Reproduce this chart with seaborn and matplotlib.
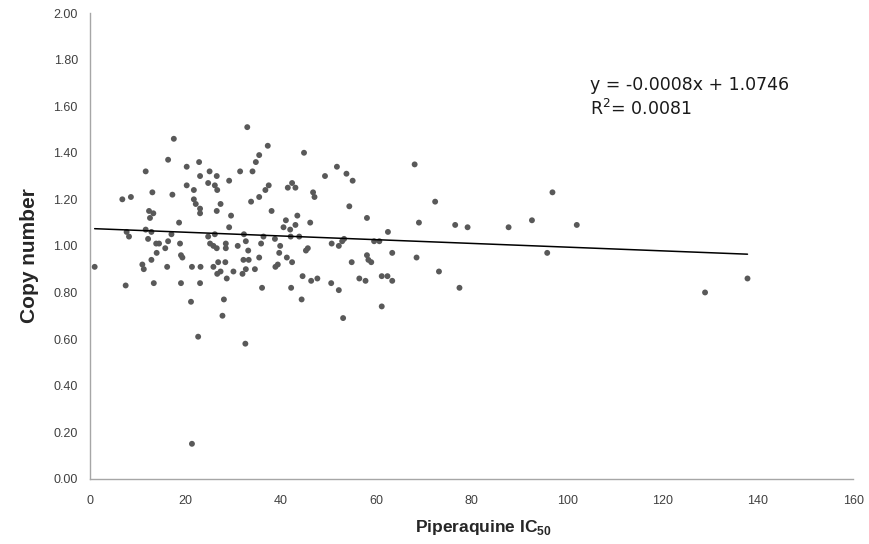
import numpy as np
import pandas as pd
import seaborn as sns
import matplotlib.pyplot as plt

# values (Piperaquine IC50 vs copy number)
ic50 = [
    17.5, 16.3, 20.2, 22.8, 11.6, 23.0, 25.0, 26.5, 24.7, 26.1,
    20.2, 21.7, 26.6, 13.0, 17.2, 6.7, 8.5, 21.7, 22.1, 23.0,
    23.0, 26.5, 12.3, 13.2, 12.5, 18.6, 11.6, 7.6, 8.1, 12.8,
    17.0, 12.1, 13.8, 14.4, 15.7, 16.3, 18.8, 24.7, 26.1, 25.1,
    25.8, 26.5, 13.9, 19.0, 19.3, 12.8, 10.9, 11.2, 0.9, 16.1,
    21.3, 23.1, 25.8, 26.8, 26.6, 7.4, 13.3, 19.0, 23.0, 21.1,
    22.6, 21.3, 32.9, 37.2, 44.8, 35.4, 34.7, 34.0, 31.4, 29.1,
    27.3, 29.5, 29.1, 33.7, 35.4, 36.7, 37.4, 38.0, 41.4, 42.3,
    43.0, 46.7, 47.0, 49.2, 51.7, 53.7, 54.3, 43.4, 41.0, 40.5,
    41.9, 43.0, 46.1, 43.8, 42.0, 38.7, 36.3, 35.8, 32.2, 32.6,
    28.4, 28.4, 30.9, 33.1, 39.8, 39.6, 41.2, 42.3, 35.4, 32.1,
    33.2, 28.3, 27.3, 30.0, 28.6, 31.9, 32.6, 34.5, 38.8, 39.3,
    45.2, 45.6, 50.6, 52.1, 52.8, 53.2, 44.5, 46.3, 47.6, 36.0,
    42.1, 50.5, 52.1, 28.0, 44.3, 27.7, 53.0, 32.5, 68.0, 55.0,
    58.0, 72.3, 68.9, 76.5, 79.1, 62.4, 59.5, 60.6, 63.3, 68.4,
    58.0, 58.3, 58.9, 54.8, 61.1, 62.3, 56.4, 57.7, 63.3, 73.1,
    77.4, 61.1, 96.9, 87.7, 92.6, 102.0, 95.8, 128.9, 137.8,
]
copy_number = [
    1.46, 1.37, 1.34, 1.36, 1.32, 1.30, 1.32, 1.30, 1.27, 1.26,
    1.26, 1.24, 1.24, 1.23, 1.22, 1.20, 1.21, 1.20, 1.18, 1.16,
    1.14, 1.15, 1.15, 1.14, 1.12, 1.10, 1.07, 1.06, 1.04, 1.06,
    1.05, 1.03, 1.01, 1.01, 0.99, 1.02, 1.01, 1.04, 1.05, 1.01,
    1.00, 0.99, 0.97, 0.96, 0.95, 0.94, 0.92, 0.90, 0.91, 0.91,
    0.91, 0.91, 0.91, 0.93, 0.88, 0.83, 0.84, 0.84, 0.84, 0.76,
    0.61, 0.15, 1.51, 1.43, 1.40, 1.39, 1.36, 1.32, 1.32, 1.28,
    1.18, 1.13, 1.08, 1.19, 1.21, 1.24, 1.26, 1.15, 1.25, 1.27,
    1.25, 1.23, 1.21, 1.30, 1.34, 1.31, 1.17, 1.13, 1.11, 1.08,
    1.07, 1.09, 1.10, 1.04, 1.04, 1.03, 1.04, 1.01, 1.05, 1.02,
    1.01, 0.99, 1.00, 0.98, 1.00, 0.97, 0.95, 0.93, 0.95, 0.94,
    0.94, 0.93, 0.89, 0.89, 0.86, 0.88, 0.90, 0.90, 0.91, 0.92,
    0.98, 0.99, 1.01, 1.00, 1.02, 1.03, 0.87, 0.85, 0.86, 0.82,
    0.82, 0.84, 0.81, 0.77, 0.77, 0.70, 0.69, 0.58, 1.35, 1.28,
    1.12, 1.19, 1.10, 1.09, 1.08, 1.06, 1.02, 1.02, 0.97, 0.95,
    0.96, 0.94, 0.93, 0.93, 0.87, 0.87, 0.86, 0.85, 0.85, 0.89,
    0.82, 0.74, 1.23, 1.08, 1.11, 1.09, 0.97, 0.80, 0.86,
]

# trendline as printed on the chart
slope = -0.0008
intercept = 1.0746
r_squared = 0.0081

x_ticks = [0, 20, 40, 60, 80, 100, 120, 140, 160]
y_ticks = [0.0, 0.2, 0.4, 0.6, 0.8, 1.0, 1.2, 1.4, 1.6, 1.8, 2.0]

df = pd.DataFrame({"ic50": ic50, "copy": copy_number})
trend_x = np.array([df["ic50"].min(), df["ic50"].max()])
trend = pd.DataFrame({"x": trend_x, "y": intercept + slope * trend_x})

sns.set_style("white")
plt.rcParams["font.family"] = ["Liberation Sans", "DejaVu Sans"]
plt.rcParams["mathtext.fontset"] = "custom"
plt.rcParams["mathtext.bf"] = "Liberation Sans:bold"
plt.rcParams["mathtext.rm"] = "DejaVu Sans"

fig = plt.figure(figsize=(8.69, 5.44), dpi=100)
ax = fig.add_axes([0.104, 0.12, 0.878, 0.856])

sns.scatterplot(data=df, x="ic50", y="copy", color="#595959", s=18,
                edgecolor="none", ax=ax)
sns.lineplot(data=trend, x="x", y="y", color="black", linewidth=1.1, ax=ax)

ax.set_xlim(0, 160)
ax.set_ylim(0, 2.0)
ax.set_xticks(x_ticks)
ax.set_xticklabels([str(t) for t in x_ticks])
ax.set_yticks(y_ticks)
ax.set_yticklabels([f"{t:.2f}" for t in y_ticks])
ax.tick_params(length=0, labelsize=9, labelcolor="#404040")
ax.tick_params(axis="y", pad=9)
ax.tick_params(axis="x", pad=12)

for side in ["top", "right"]:
    ax.spines[side].set_visible(False)
for side in ["left", "bottom"]:
    ax.spines[side].set_color("#a6a6a6")
    ax.spines[side].set_linewidth(1.0)

ax.set_xlabel(r"Piperaquine IC$_{\mathbf{50}}$", fontsize=12.5, fontweight="bold")
ax.xaxis.set_label_coords(0.515, -0.085)
ax.set_ylabel("Copy number", fontsize=15, fontweight="bold")
ax.yaxis.set_label_coords(-0.067, 0.48)

ax.text(104.8, 1.69, f"y = {slope:.4f}x + {intercept:.4f}", fontsize=12.5,
        va="center", color="#1a1a1a", family="DejaVu Sans")
ax.text(104.8, 1.59, f"R$^2$= {r_squared:.4f}", fontsize=12.5,
        va="center", color="#1a1a1a", family="DejaVu Sans")

fig.savefig("out.png", dpi=100)
